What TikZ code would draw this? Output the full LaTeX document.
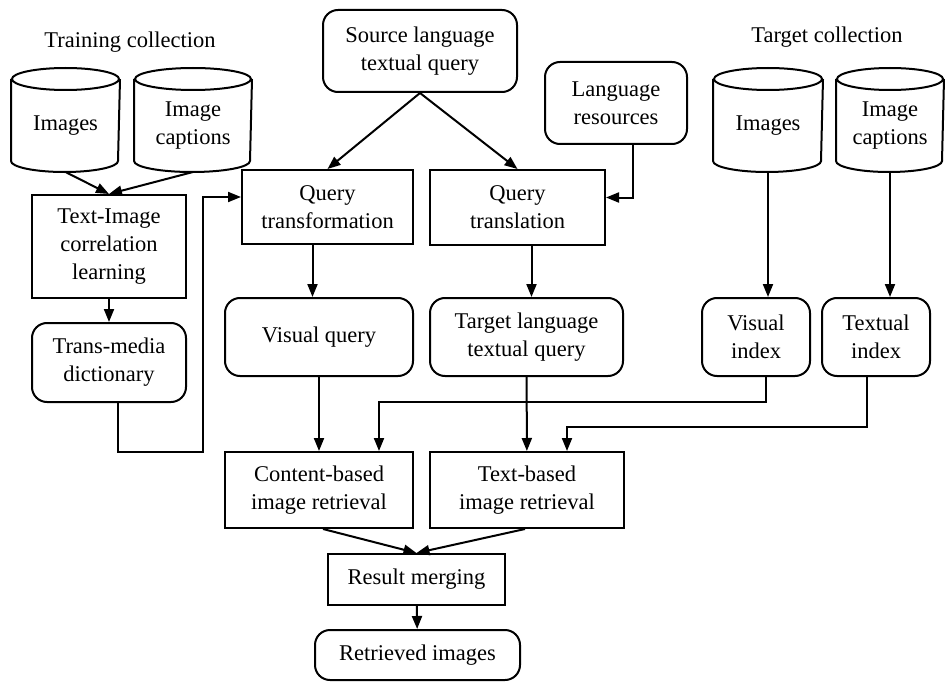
\documentclass[tikz,border=0pt]{standalone}
\usepackage{fontspec}
\setmainfont{Liberation Serif}
\usetikzlibrary{arrows.meta}

\begin{document}
\begin{tikzpicture}[x=1pt, y=-1pt, line width=2pt,
    font=\fontsize{22.5}{28}\selectfont,
    box/.style={draw, align=center, inner sep=0pt},
    rbox/.style={box, rounded corners=15pt},
    store/.style={align=center, inner sep=0pt, minimum width=#1, minimum height=91pt},
    arr/.style={-{Triangle[length=13pt,width=10pt]}}]
    \useasboundingbox (0,0) rectangle (945,682);
    % collections
    \node (trainlbl) at (130,42) {Training collection};
    \node (targetlbl) at (827,37) {Target collection};
    \node[store=107pt] (trimg) at (65.5,125.5) {Images};
    \node[store=116pt] (trcap) at (193,125.5) {Image\\captions};
    \node[store=108pt] (tgimg) at (768,125.5) {Images};
    \node[store=106pt] (tgcap) at (890,125.5) {Image\\captions};
    \foreach \db/\r in {trimg/53.5, trcap/58, tgimg/54, tgcap/53}{
        % top lid, then the body with its lower rim
        \draw (\db.north) ellipse [x radius=\r pt, y radius=11pt];
        \draw (\db.north west) -- ([yshift=11pt]\db.south west)
            arc[start angle=180, end angle=360, x radius=\r pt, y radius=11pt] -- (\db.north east);
    }
    % left column
    \node[box, minimum width=154pt, minimum height=103pt] (learn) at (109,246.5) {Text-Image\\correlation\\learning};
    \node[rbox, minimum width=154pt, minimum height=79pt] (dict) at (109,362.5) {Trans-media\\dictionary};
    % queries
    \node[rbox, minimum width=194pt, minimum height=82pt] (src) at (420,51) {Source language\\textual query};
    \node[rbox, minimum width=142pt, minimum height=82pt] (langres) at (616,103) {Language\\resources};
    \node[box, minimum width=171pt, minimum height=74pt] (qtf) at (327.5,207) {Query\\transformation};
    \node[box, minimum width=175pt, minimum height=75pt] (qtl) at (517.5,207.5) {Query\\translation};
    \node[rbox, minimum width=188pt, minimum height=78pt] (vq) at (319,337) {Visual query};
    \node[rbox, minimum width=193pt, minimum height=78pt] (tq) at (526.5,337) {Target language\\textual query};
    \node[rbox, minimum width=108pt, minimum height=78pt] (vidx) at (756,337) {Visual\\index};
    \node[rbox, minimum width=108pt, minimum height=78pt] (tidx) at (876,337) {Textual\\index};
    % retrieval
    \node[box, minimum width=188pt, minimum height=76pt] (cbir) at (319,490) {Content-based\\image retrieval};
    \node[box, minimum width=194pt, minimum height=76pt] (tbir) at (527,490) {Text-based\\image retrieval};
    \node[box, minimum width=177pt, minimum height=51pt] (merge) at (416.5,579.5) {Result merging};
    \node[rbox, minimum width=205pt, minimum height=50pt] (retr) at (417.5,655) {Retrieved images};
    \coordinate (loop) at (203,452);

    \draw[arr] (trimg.south) -- (learn.north);
    \draw[arr] (trcap.south) -- (learn.north);
    \draw[arr] (learn) -- (dict);
    \draw[arr] ([xshift=9pt]dict.south) |- (loop) |- ([yshift=10pt]qtf.west);
    \draw[arr] (src.south) -- (qtf.north);
    \draw[arr] (src.south) -- (qtl.north);
    \draw[arr] ([xshift=17pt]langres.south) |- ([yshift=10pt]qtl.east);
    \draw[arr] ([xshift=-15pt]qtf.south) -- ([xshift=-15pt]qtf.south |- vq.north);
    \draw[arr] ([xshift=14pt]qtl.south) -- ([xshift=14pt]qtl.south |- tq.north);
    \draw[arr] (tgimg.south) -- (tgimg.south |- vidx.north);
    \draw[arr] (tgcap.south) -- (tgcap.south |- tidx.north);
    \draw[arr] (vq) -- (cbir);
    \draw[arr] (tq) -- (tbir);
    \draw[arr] ([xshift=10pt]vidx.south) -- ++(0,25) -| ([xshift=60pt]cbir.north);
    \draw[arr] ([xshift=-9pt]tidx.south) -- ++(0,50) -| ([xshift=40pt]tbir.north);
    \draw[arr] ([xshift=4pt]cbir.south) -- (merge.north);
    \draw[arr] ([xshift=-2pt]tbir.south) -- (merge.north);
    \draw[arr] (merge) -- (retr);
\end{tikzpicture}
\end{document}
